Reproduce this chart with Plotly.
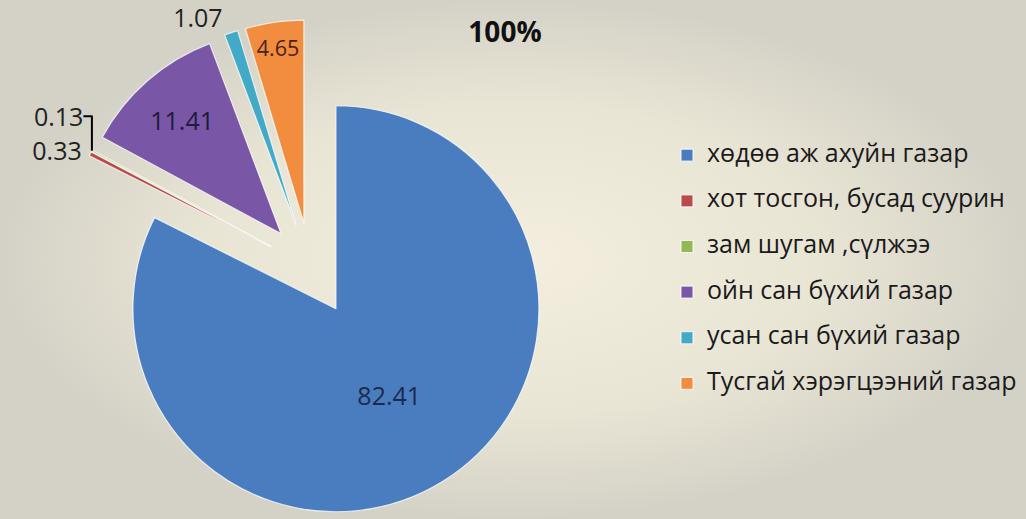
import plotly.graph_objects as go

labels = [
    "хөдөө аж ахуйн газар",
    "хот тосгон, бусад суурин",
    "зам шугам ,сүлжээ",
    "ойн сан бүхий газар",
    "усан сан бүхий газар",
    "Тусгай хэрэгцээний газар",
]
values = [82.41, 0.33, 0.13, 11.41, 1.07, 4.65]
colors = ["#4a7dc0", "#bb4b48", "#93b957", "#7a56a6", "#42a9c6", "#f28c3f"]
text_pos = ["inside", "outside", "outside", "inside", "outside", "inside"]
text_colors = ["#1d2a4a", "#222222", "#222222", "#221a3a", "#222222", "#4a2416"]
pulls = [0.24, 0.22, 0.22, 0.22, 0.22, 0.22]
title_text = "100%"

# legend entries: larger label font inside a two-line item to give the wide spacing
legend_labels = [f'<span style="font-size:25px">{l}</span><br> ' for l in labels]

fig = go.Figure()

# soft radial vignette behind the chart
fig.add_trace(
    go.Scatter(
        x=[0, 1, 1, 0, 0],
        y=[0, 0, 1, 1, 0],
        mode="lines",
        line=dict(width=0),
        fill="toself",
        fillgradient=dict(type="radial", colorscale=[[0, "#f3eedd"], [0.6, "#e9e5d5"], [1, "#d4d2c7"]]),
        hoverinfo="skip",
        showlegend=False,
    )
)

fig.add_trace(
    go.Pie(
        labels=legend_labels,
        values=values,
        sort=False,
        direction="clockwise",
        rotation=0,
        pull=pulls,
        textinfo="value",
        texttemplate="%{value:.2f}",
        textposition=text_pos,
        insidetextorientation="horizontal",
        textfont=dict(family="Open Sans", size=25, color=text_colors),
        marker=dict(colors=colors, line=dict(color="rgba(255,255,255,0.75)", width=1.2)),
        domain=dict(x=[0.05, 0.555], y=[0, 0.97]),
        automargin=False,
        hoverinfo="skip",
    )
)

fig.update_layout(
    width=1026,
    height=519,
    margin=dict(l=0, r=0, t=0, b=0, autoexpand=False),
    paper_bgcolor="#e6e2d3",
    plot_bgcolor="#e6e2d3",
    font=dict(family="Open Sans", color="#1a1a1a"),
    xaxis=dict(range=[0, 1], visible=False, fixedrange=True, domain=[0, 1]),
    yaxis=dict(range=[0, 1], visible=False, fixedrange=True, domain=[0, 1]),
    title=dict(
        text=f"<b>{title_text}</b>",
        x=505 / 1026,
        xanchor="center",
        y=1 - 32 / 519,
        yanchor="middle",
        font=dict(family="Open Sans", size=28, color="#111"),
    ),
    legend=dict(
        x=667 / 1026,
        xanchor="left",
        y=0.734,
        yanchor="top",
        valign="top",
        bgcolor="rgba(0,0,0,0)",
        font=dict(family="Open Sans", size=16.4, color="#1a1a1a"),
        traceorder="normal",
    ),
    showlegend=True,
)

fig.write_html("out.html")
